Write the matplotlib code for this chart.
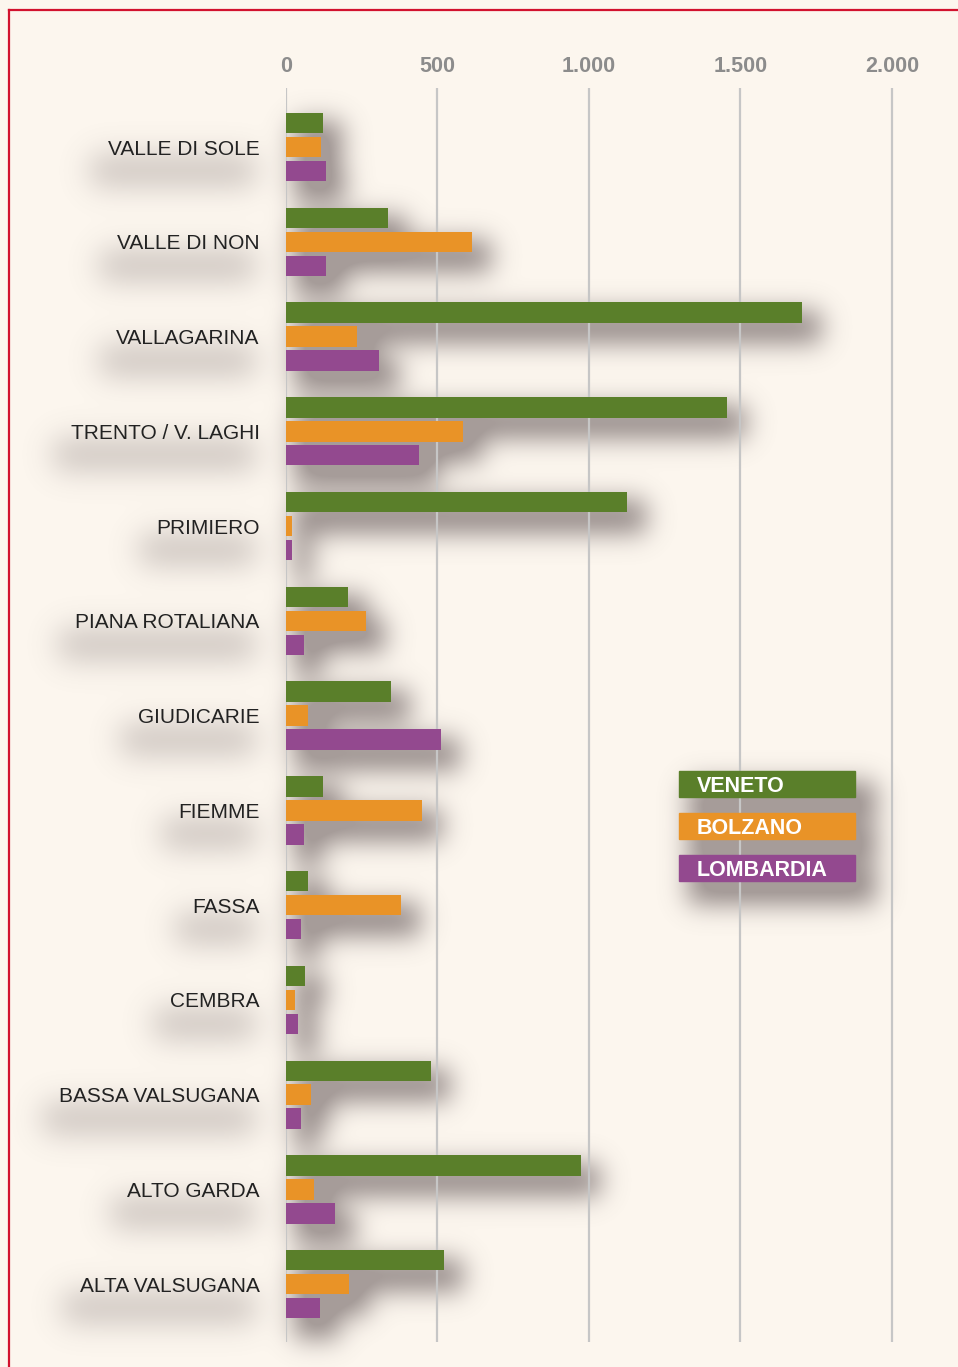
import numpy as np
import matplotlib
matplotlib.use('Agg')
import matplotlib.pyplot as plt
from matplotlib.lines import Line2D
from matplotlib.patches import Rectangle

# data
areas = ['VALLE DI SOLE', 'VALLE DI NON', 'VALLAGARINA', 'TRENTO / V. LAGHI',
         'PRIMIERO', 'PIANA ROTALIANA', 'GIUDICARIE', 'FIEMME', 'FASSA',
         'CEMBRA', 'BASSA VALSUGANA', 'ALTO GARDA', 'ALTA VALSUGANA']
veneto = [122, 336, 1702, 1454, 1125, 204, 346, 122, 73, 63, 478, 973, 521]
bolzano = [115, 613, 234, 584, 20, 264, 73, 449, 379, 30, 82, 92, 208]
lombardia = [132, 132, 307, 439, 20, 59, 511, 59, 49, 40, 49, 162, 112]
series_names = ['VENETO', 'BOLZANO', 'LOMBARDIA']
tick_vals = [0, 500, 1000, 1500, 2000]
tick_text = ['0', '500', '1.000', '1.500', '2.000']

colors = ['#5a7f2a', '#e99327', '#93498f']
bg = '#fcf6ee'
W, H, DPI = 958, 1367, 100

plt.rcParams['font.family'] = ['Liberation Sans', 'DejaVu Sans']

fig = plt.figure(figsize=(W / DPI, H / DPI), dpi=DPI)
fig.patch.set_facecolor(bg)

bg_ax = fig.add_axes([0, 0, 1, 1], zorder=0)
bg_ax.set_xlim(0, W)
bg_ax.set_ylim(0, H)
bg_ax.axis('off')

ax = fig.add_axes([286 / W, 1 - 1342 / H, (W - 286) / W, (1342 - 88) / H], zorder=1)
ax.patch.set_alpha(0)

y = np.arange(len(areas))
offs = [-0.253, 0, 0.253]
bars = []
for vals, off, c in zip([veneto, bolzano, lombardia], offs, colors):
    bars += list(ax.barh(y + off, vals, height=0.215, color=c, zorder=3))

ax.set_xlim(0, 2218)
ax.set_ylim(12.61, -0.623)
ax.xaxis.tick_top()
ax.set_xticks(tick_vals)
ax.set_xticklabels(tick_text, fontsize=15.5, fontweight='bold', color='#8c8c8c')
ax.set_yticks(y)
ax.set_yticklabels(areas, fontsize=15, color='#222222')
ax.tick_params(axis='x', length=0, pad=8)
ax.tick_params(axis='y', length=0, pad=19)
ax.grid(axis='x', color='#c6c6c6', lw=1.6, zorder=1)
ax.grid(axis='y', visible=False)
for s in ax.spines.values():
    s.set_visible(False)

# legend boxes
leg_boxes = []
for i, (name, c) in enumerate(zip(series_names, colors)):
    top = 771 + 42 * i
    r = Rectangle((679 / W, 1 - (top + 26) / H), 176 / W, 26 / H,
                  transform=fig.transFigure, color=c, zorder=5)
    fig.add_artist(r)
    leg_boxes.append(r)
    fig.text(697 / W, 1 - (top + 13) / H, name, color='white', fontsize=15.5,
             fontweight='bold', va='center_baseline', ha='left', zorder=6)

# red frame
fig.add_artist(Line2D([9 / W, 1], [1 - 10 / H] * 2, transform=fig.transFigure,
                      color='#d2122e', lw=1.6))
fig.add_artist(Line2D([9 / W] * 2, [0, 1 - 10 / H], transform=fig.transFigure,
                      color='#d2122e', lw=1.6))

# soft drop shadows built from the drawn artists
fig.canvas.draw()


def stamp(mask, bb, dx, dy, s, grow=0):
    c0, c1 = int(bb.x0) + dx - grow, int(bb.x1) + dx + grow
    r0, r1 = int(H - bb.y1) + dy - grow, int(H - bb.y0) + dy + grow
    c0, c1 = max(c0, 0), min(c1, W)
    r0, r1 = max(r0, 0), min(r1, H)
    if c1 > c0 and r1 > r0:
        mask[r0:r1, c0:c1] = np.maximum(mask[r0:r1, c0:c1], s)


def blur(a, sigma):
    n = int(sigma * 3)
    k = np.exp(-0.5 * (np.arange(-n, n + 1) / sigma) ** 2)
    k /= k.sum()
    a = np.apply_along_axis(lambda m: np.convolve(m, k, mode='same'), 0, a)
    a = np.apply_along_axis(lambda m: np.convolve(m, k, mode='same'), 1, a)
    return a


bar_mask = np.zeros((H, W))
for b in bars:
    if b.get_width() > 0:
        stamp(bar_mask, b.get_window_extent(), 14, 15, 1.0, 6)
for r in leg_boxes:
    stamp(bar_mask, r.get_window_extent(), 15, 17, 1.0, 6)

txt_mask = np.zeros((H, W))
for t in ax.get_yticklabels():
    stamp(txt_mask, t.get_window_extent(), -10, 22, 0.45, 6)

mask = blur(bar_mask, 13) + blur(txt_mask, 15)
img = np.zeros((H, W, 4))
img[..., 0] = 0.45
img[..., 1] = 0.40
img[..., 2] = 0.40
img[..., 3] = np.clip(mask * 1.25, 0, 1) * 0.62
bg_ax.imshow(img, extent=[0, W, 0, H], origin='upper', aspect='auto', zorder=0)

fig.savefig('out.png', dpi=DPI, facecolor=bg)
